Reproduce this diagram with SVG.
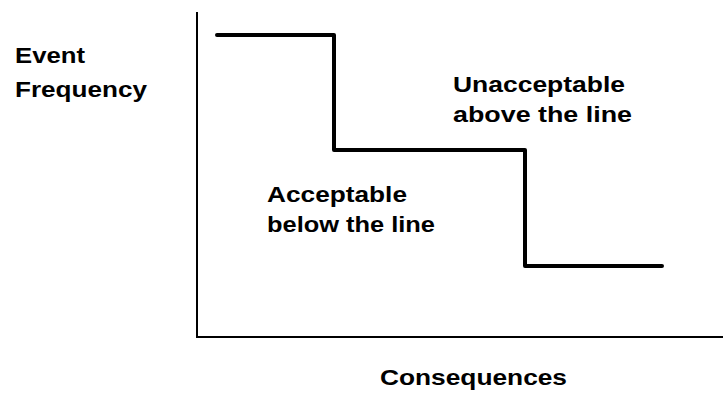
<svg xmlns="http://www.w3.org/2000/svg" width="723" height="394" viewBox="0 0 723 394">
<style>
.t{font-family:"Liberation Sans",Arial,sans-serif;font-weight:bold;font-size:22px;fill:#000}
.ax{fill:none;stroke:#000;stroke-width:2}
.st{fill:none;stroke:#000;stroke-width:4;stroke-linejoin:round;stroke-linecap:round}
</style>
<rect width="723" height="394" fill="#fff"/>
<g id="connectors">
<path id="axes" class="ax" d="M197,12 V337 H723"/>
<path id="step-line" class="st" d="M217,35 H334 V150 H525 V266 H662"/>
</g>
<g id="y-label">
<text class="t" x="15" y="63" textLength="70" lengthAdjust="spacingAndGlyphs">Event</text>
<text class="t" x="15" y="97" textLength="132" lengthAdjust="spacingAndGlyphs">Frequency</text>
</g>
<g id="unacceptable">
<text class="t" x="453" y="92" textLength="172" lengthAdjust="spacingAndGlyphs">Unacceptable</text>
<text class="t" x="453" y="122" textLength="179" lengthAdjust="spacingAndGlyphs">above the line</text>
</g>
<g id="acceptable">
<text class="t" x="267" y="202" textLength="140" lengthAdjust="spacingAndGlyphs">Acceptable</text>
<text class="t" x="267" y="232" textLength="168" lengthAdjust="spacingAndGlyphs">below the line</text>
</g>
<g id="x-label">
<text class="t" x="380" y="385" textLength="187" lengthAdjust="spacingAndGlyphs">Consequences</text>
</g>
</svg>
